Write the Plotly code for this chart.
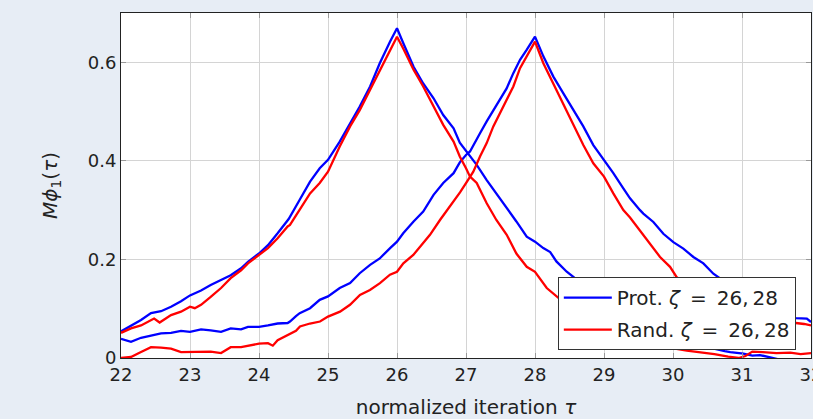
import plotly.graph_objects as go

# Prot. zeta = 26
x_prot26 = [22.0, 22.145, 22.29, 22.435, 22.58, 22.725, 22.87, 23.0, 23.16, 23.30, 23.45, 23.59, 23.74, 23.84,
            24.0, 24.13, 24.27, 24.43, 24.59, 24.74, 24.88, 25.0, 25.17, 25.32, 25.46, 25.61, 25.75, 25.90,
            26.0, 26.09, 26.24, 26.38, 26.53, 26.67, 26.82, 26.91, 27.0, 27.155, 27.30, 27.44, 27.59, 27.73,
            27.88, 28.0, 28.12, 28.22, 28.31, 28.41, 28.46, 28.56, 28.8, 29.0, 29.25, 29.5, 29.75, 30.0,
            30.25, 30.5, 30.75, 30.83, 31.02, 31.15, 31.26, 31.35, 31.45, 31.6, 32.0]
y_prot26 = [0.054, 0.066, 0.077, 0.091, 0.095, 0.104, 0.115, 0.127, 0.137, 0.148, 0.158, 0.168, 0.182, 0.195,
            0.212, 0.229, 0.253, 0.282, 0.321, 0.358, 0.385, 0.402, 0.439, 0.476, 0.510, 0.551, 0.598, 0.642,
            0.669, 0.639, 0.591, 0.557, 0.527, 0.493, 0.466, 0.437, 0.420, 0.392, 0.361, 0.334, 0.304, 0.277,
            0.246, 0.236, 0.223, 0.215, 0.196, 0.182, 0.175, 0.164, 0.135, 0.115, 0.095, 0.075, 0.060, 0.045,
            0.032, 0.022, 0.014, 0.012, 0.009, 0.005, 0.006, 0.003, 0.0, -0.005, -0.01]

# Rand. zeta = 26
x_rand26 = [22.0, 22.145, 22.29, 22.435, 22.48, 22.56, 22.725, 22.87, 23.0, 23.07, 23.16, 23.30, 23.45, 23.59,
            23.74, 23.84, 24.0, 24.13, 24.27, 24.415, 24.449, 24.59, 24.74, 24.88, 25.0, 25.17, 25.32, 25.46,
            25.61, 25.75, 25.90, 26.0, 26.09, 26.24, 26.38, 26.53, 26.67, 26.82, 26.91, 27.0, 27.058, 27.155,
            27.30, 27.44, 27.59, 27.73, 27.88, 28.0, 28.12, 28.17, 28.4, 28.7, 29.0, 29.3, 29.6, 29.9, 30.2,
            30.4, 30.6, 30.8, 30.95, 31.05, 31.15, 31.3, 31.5, 31.7, 31.85, 32.0]
y_rand26 = [0.051, 0.060, 0.066, 0.077, 0.080, 0.072, 0.087, 0.094, 0.104, 0.101, 0.108, 0.124, 0.142, 0.162,
            0.178, 0.192, 0.209, 0.223, 0.243, 0.267, 0.270, 0.300, 0.334, 0.355, 0.378, 0.429, 0.470, 0.503,
            0.544, 0.585, 0.625, 0.652, 0.628, 0.585, 0.551, 0.510, 0.473, 0.439, 0.409, 0.385, 0.368, 0.355,
            0.314, 0.280, 0.250, 0.212, 0.185, 0.175, 0.152, 0.142, 0.115, 0.090, 0.070, 0.050, 0.035, 0.022,
            0.015, 0.012, 0.008, 0.003, 0.0, 0.004, 0.013, 0.012, 0.010, 0.011, 0.008, 0.010]

# Prot. zeta = 28
x_prot28 = [22.0, 22.145, 22.29, 22.435, 22.58, 22.725, 22.87, 23.0, 23.16, 23.30, 23.45, 23.59, 23.74, 23.84,
            24.0, 24.13, 24.27, 24.415, 24.449, 24.536, 24.59, 24.74, 24.88, 25.0, 25.17, 25.32, 25.46, 25.61,
            25.75, 25.90, 26.0, 26.09, 26.24, 26.38, 26.53, 26.67, 26.82, 26.91, 27.0, 27.058, 27.106, 27.203,
            27.30, 27.396, 27.493, 27.589, 27.686, 27.783, 27.879, 28.0, 28.121, 28.266, 28.411, 28.556, 28.70,
            28.845, 29.0, 29.135, 29.28, 29.377, 29.522, 29.57, 29.715, 29.86, 30.005, 30.15, 30.295, 30.44,
            30.585, 30.8, 31.0, 31.2, 31.4, 31.6, 31.78, 31.94, 32.0]
y_prot28 = [0.039, 0.033, 0.041, 0.046, 0.050, 0.051, 0.055, 0.053, 0.058, 0.056, 0.053, 0.060, 0.058, 0.063,
            0.063, 0.066, 0.070, 0.071, 0.074, 0.085, 0.091, 0.101, 0.118, 0.125, 0.142, 0.152, 0.172, 0.189,
            0.202, 0.223, 0.236, 0.253, 0.277, 0.297, 0.331, 0.355, 0.375, 0.397, 0.412, 0.419, 0.432, 0.456,
            0.480, 0.503, 0.524, 0.547, 0.578, 0.605, 0.625, 0.652, 0.612, 0.571, 0.537, 0.503, 0.470,
            0.432, 0.402, 0.375, 0.344, 0.324, 0.300, 0.293, 0.276, 0.252, 0.235, 0.222, 0.205, 0.192,
            0.171, 0.150, 0.130, 0.115, 0.100, 0.090, 0.081, 0.080, 0.073]

# Rand. zeta = 28
x_rand28 = [22.0, 22.145, 22.29, 22.435, 22.58, 22.725, 22.87, 23.0, 23.16, 23.30, 23.45, 23.59, 23.74, 23.84,
            24.0, 24.13, 24.2, 24.27, 24.415, 24.449, 24.536, 24.594, 24.739, 24.884, 25.0, 25.174, 25.319,
            25.463, 25.608, 25.753, 25.898, 26.0, 26.092, 26.236, 26.333, 26.478, 26.623, 26.768, 26.913, 27.0,
            27.106, 27.203, 27.30, 27.396, 27.493, 27.589, 27.686, 27.783, 27.879, 28.0, 28.121, 28.266, 28.411,
            28.556, 28.70, 28.845, 29.0, 29.135, 29.28, 29.377, 29.522, 29.667, 29.812, 29.957, 30.053, 30.3,
            30.6, 30.9, 31.2, 31.5, 31.78, 31.9, 32.0]
y_rand28 = [0.0, 0.002, 0.012, 0.022, 0.021, 0.019, 0.012, 0.012, 0.013, 0.013, 0.010, 0.022, 0.022, 0.025,
            0.029, 0.030, 0.025, 0.036, 0.046, 0.050, 0.055, 0.064, 0.070, 0.074, 0.084, 0.094, 0.108,
            0.128, 0.138, 0.152, 0.169, 0.175, 0.192, 0.209, 0.226, 0.250, 0.280, 0.307, 0.336, 0.355,
            0.378, 0.409, 0.436, 0.470, 0.497, 0.524, 0.551, 0.588, 0.612, 0.642, 0.598, 0.557, 0.517,
            0.476, 0.432, 0.395, 0.368, 0.334, 0.300, 0.285, 0.258, 0.232, 0.205, 0.185, 0.164, 0.140,
            0.120, 0.105, 0.090, 0.080, 0.071, 0.069, 0.066]

x_ticks = [22, 23, 24, 25, 26, 27, 28, 29, 30, 31, 32]
y_ticks = [0, 0.2, 0.4, 0.6]
y_ticktext = ["0", "0.2", "0.4", "0.6"]

BLUE = "#0000ff"
RED = "#ff0000"
FONT = "DejaVu Sans"
TXT = "#222222"

fig = go.Figure()
series = [
    (x_prot26, y_prot26, BLUE, "prot", True, "Prot. <i>ζ</i>\u2002=\u200226,\u200928"),
    (x_prot28, y_prot28, BLUE, "prot", False, "Prot. <i>ζ</i>\u2002=\u200226,\u200928"),
    (x_rand26, y_rand26, RED, "rand", True, "Rand. <i>ζ</i>\u2002=\u200226,\u200928"),
    (x_rand28, y_rand28, RED, "rand", False, "Rand. <i>ζ</i>\u2002=\u200226,\u200928"),
]
for xs, ys, col, grp, show, name in series:
    fig.add_trace(go.Scatter(x=xs, y=ys, mode="lines", line=dict(color=col, width=2.3),
                             name=name, legendgroup=grp, showlegend=show))

axis_common = dict(
    showline=True, linecolor=TXT, linewidth=1, mirror="ticks",
    ticks="inside", ticklen=5, tickcolor="#999999", tickwidth=1,
    showgrid=True, gridcolor="#d4d4d4", gridwidth=1, zeroline=False,
    tickfont=dict(family=FONT, size=18, color=TXT), automargin=False,
)

fig.update_xaxes(range=[22, 32], tickvals=x_ticks, ticklabeloverflow="allow",
                 title=dict(text="normalized iteration <i>τ</i>", font=dict(family=FONT, size=20, color=TXT),
                            standoff=16),
                 **axis_common)
fig.update_yaxes(range=[0, 0.7], tickvals=y_ticks, ticktext=y_ticktext,
                 title=dict(text="<i>Mϕ</i><sub>1</sub>(<i>τ</i>)", font=dict(family=FONT, size=20, color=TXT),
                            standoff=24),
                 **axis_common)

fig.update_layout(
    width=813, height=419,
    margin=dict(l=121, r=2, t=13, b=61),
    paper_bgcolor="#e7edf5", plot_bgcolor="#ffffff",
    font=dict(family=FONT, color=TXT),
    legend=dict(x=0.978, y=0.023, xanchor="right", yanchor="bottom",
                bgcolor="#ffffff", bordercolor="#333333", borderwidth=1,
                font=dict(family=FONT, size=20, color=TXT),
                tracegroupgap=3, itemwidth=48),
    showlegend=True,
)

fig.write_html("out.html")
